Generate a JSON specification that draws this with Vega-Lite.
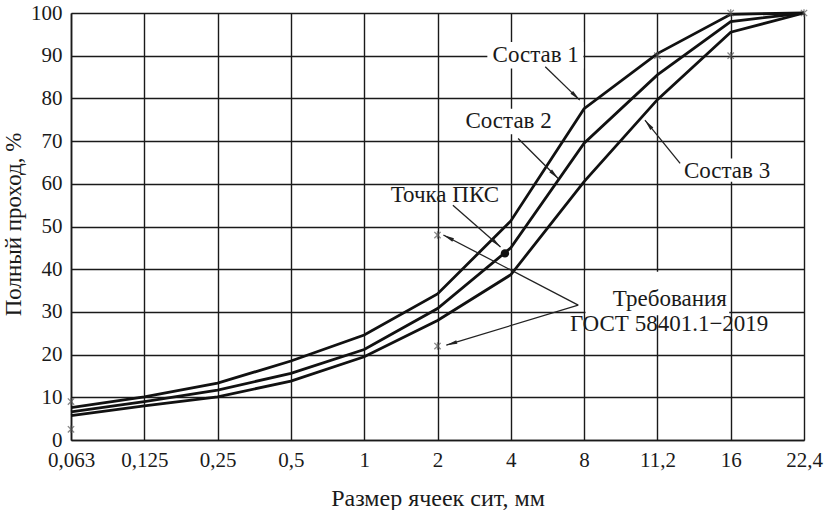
{
  "$schema": "https://vega.github.io/schema/vega-lite/v6.json",
  "width": 733,
  "height": 427,
  "autosize": "none",
  "padding": {"left": 71, "top": 13, "right": 23, "bottom": 70},
  "background": "white",
  "config": {
    "view": {"stroke": null},
    "font": "Liberation Serif",
    "axis": {
      "grid": true,
      "gridColor": "#1a1a1a",
      "gridWidth": 1.4,
      "domainColor": "#1a1a1a",
      "domainWidth": 1.6,
      "ticks": false,
      "labelFont": "Liberation Serif",
      "labelFontSize": 21,
      "labelColor": "#1a1a1a",
      "labelFlush": false,
      "labelOverlap": false,
      "labelBound": false,
      "titleFont": "Liberation Serif",
      "titleFontWeight": "normal",
      "titleColor": "#1a1a1a"
    }
  },
  "datasets": {
    "curves": [
      {"sieve": "0,063", "i": 0, "mix": "Состав 1", "pass": 7.6},
      {"sieve": "0,125", "i": 1, "mix": "Состав 1", "pass": 10.1},
      {"sieve": "0,25", "i": 2, "mix": "Состав 1", "pass": 13.3},
      {"sieve": "0,5", "i": 3, "mix": "Состав 1", "pass": 18.5},
      {"sieve": "1", "i": 4, "mix": "Состав 1", "pass": 24.6},
      {"sieve": "2", "i": 5, "mix": "Состав 1", "pass": 34.2},
      {"sieve": "4", "i": 6, "mix": "Состав 1", "pass": 51.3},
      {"sieve": "8", "i": 7, "mix": "Состав 1", "pass": 77.6},
      {"sieve": "11,2", "i": 8, "mix": "Состав 1", "pass": 90.5},
      {"sieve": "16", "i": 9, "mix": "Состав 1", "pass": 99.7},
      {"sieve": "22,4", "i": 10, "mix": "Состав 1", "pass": 100},
      {"sieve": "0,063", "i": 0, "mix": "Состав 2", "pass": 6.6},
      {"sieve": "0,125", "i": 1, "mix": "Состав 2", "pass": 9.0},
      {"sieve": "0,25", "i": 2, "mix": "Состав 2", "pass": 11.7},
      {"sieve": "0,5", "i": 3, "mix": "Состав 2", "pass": 15.6},
      {"sieve": "1", "i": 4, "mix": "Состав 2", "pass": 21.2},
      {"sieve": "2", "i": 5, "mix": "Состав 2", "pass": 30.8},
      {"sieve": "4", "i": 6, "mix": "Состав 2", "pass": 45.0},
      {"sieve": "8", "i": 7, "mix": "Состав 2", "pass": 69.5},
      {"sieve": "11,2", "i": 8, "mix": "Состав 2", "pass": 85.5},
      {"sieve": "16", "i": 9, "mix": "Состав 2", "pass": 98.0},
      {"sieve": "22,4", "i": 10, "mix": "Состав 2", "pass": 100},
      {"sieve": "0,063", "i": 0, "mix": "Состав 3", "pass": 5.7},
      {"sieve": "0,125", "i": 1, "mix": "Состав 3", "pass": 8.0},
      {"sieve": "0,25", "i": 2, "mix": "Состав 3", "pass": 10.1},
      {"sieve": "0,5", "i": 3, "mix": "Состав 3", "pass": 13.8},
      {"sieve": "1", "i": 4, "mix": "Состав 3", "pass": 19.5},
      {"sieve": "2", "i": 5, "mix": "Состав 3", "pass": 28.0},
      {"sieve": "4", "i": 6, "mix": "Состав 3", "pass": 38.7},
      {"sieve": "8", "i": 7, "mix": "Состав 3", "pass": 60.5},
      {"sieve": "11,2", "i": 8, "mix": "Состав 3", "pass": 79.7},
      {"sieve": "16", "i": 9, "mix": "Состав 3", "pass": 95.5},
      {"sieve": "22,4", "i": 10, "mix": "Состав 3", "pass": 100}
    ],
    "gost": [
      {"sieve": "0,063", "i": 0, "pass": 2.5},
      {"sieve": "0,063", "i": 0, "pass": 9},
      {"sieve": "2", "i": 5, "pass": 22},
      {"sieve": "2", "i": 5, "pass": 48},
      {"sieve": "11,2", "i": 8, "pass": 90},
      {"sieve": "16", "i": 9, "pass": 90},
      {"sieve": "16", "i": 9, "pass": 100},
      {"sieve": "22,4", "i": 10, "pass": 100}
    ],
    "pks": [
      {"i": 5.92, "pass": 43.7}
    ],
    "boxes": [
      {"i": 5.68, "i2": 6.99, "pass": 87.0, "pass2": 93.2},
      {"i": 5.3, "i2": 6.64, "pass": 71.6, "pass2": 77.6},
      {"i": 8.3, "i2": 9.62, "pass": 60.5, "pass2": 65.9},
      {"i": 7.02, "i2": 8.98, "pass": 29.2, "pass2": 39.4}
    ],
    "leaders": [
      {"i": 6.94, "pass": 79.6, "i2": 6.47, "pass2": 87.4, "dir": 134},
      {"i": 6.65, "pass": 61.2, "i2": 6.10, "pass2": 70.6, "dir": 135},
      {"i": 7.83, "pass": 74.9, "i2": 8.31, "pass2": 64.8, "dir": 321},
      {"i": 5.86, "pass": 45.2, "i2": 5.21, "pass2": 55.0, "dir": 132},
      {"i": 5.08, "pass": 48.0, "i2": 6.92, "pass2": 31.6, "dir": 297},
      {"i": 5.12, "pass": 22.2, "i2": 6.92, "pass2": 31.6, "dir": 253}
    ],
    "notes": [
      {"i": 6.34, "pass": 90.1, "label": "Состав 1"},
      {"i": 5.97, "pass": 74.6, "label": "Состав 2"},
      {"i": 8.95, "pass": 63.0, "label": "Состав 3"},
      {"i": 5.10, "pass": 57.3, "label": "Точка ПКС"},
      {"i": 8.17, "pass": 33.0, "label": "Требования"},
      {"i": 8.16, "pass": 27.1, "label": "ГОСТ 58401.1−2019"}
    ]
  },
  "encoding": {
    "x": {
      "field": "i", "type": "quantitative",
      "scale": {"domain": [0, 10], "nice": false, "zero": false},
      "axis": {
        "values": [0, 1, 2, 3, 4, 5, 6, 7, 8, 9, 10],
        "labelExpr": "['0,063','0,125','0,25','0,5','1','2','4','8','11,2','16','22,4'][datum.value]",
        "labelPadding": 9,
        "title": "Размер ячеек сит, мм",
        "titleFontSize": 24,
        "titleY": 58,
        "titleBaseline": "middle"
      }
    },
    "y": {
      "field": "pass", "type": "quantitative",
      "scale": {"domain": [0, 100], "nice": false},
      "axis": {
        "values": [0, 10, 20, 30, 40, 50, 60, 70, 80, 90, 100],
        "labelPadding": 9,
        "title": "Полный проход, %",
        "titleFontSize": 23,
        "titleX": -58,
        "titleY": 211,
        "titleBaseline": "middle"
      }
    }
  },
  "layer": [
    {
      "data": {"name": "boxes"},
      "mark": {"type": "rect", "fill": "white"},
      "encoding": {
        "x2": {"field": "i2"},
        "y2": {"field": "pass2"}
      }
    },
    {
      "data": {"name": "curves"},
      "mark": {"type": "line", "color": "#111111", "strokeWidth": 2.8},
      "encoding": {
        "detail": {"field": "mix"}
      }
    },
    {
      "data": {"name": "gost"},
      "mark": {"type": "point", "shape": "M-1,-1L1,1M-1,1L1,-1M0,-1.2L0,1.2", "size": 40, "filled": false, "stroke": "#555555", "strokeWidth": 1.3}
    },
    {
      "data": {"name": "pks"},
      "mark": {"type": "point", "shape": "circle", "size": 70, "filled": true, "color": "#111111", "opacity": 1}
    },
    {
      "data": {"name": "leaders"},
      "mark": {"type": "rule", "color": "#222222", "strokeWidth": 1.3},
      "encoding": {
        "x2": {"field": "i2"},
        "y2": {"field": "pass2"}
      }
    },
    {
      "data": {"name": "leaders"},
      "mark": {"type": "point", "shape": "M0,0L0.38,2.2L-0.38,2.2Z", "size": 100, "filled": true, "color": "#222222", "opacity": 1},
      "encoding": {
        "angle": {"field": "dir", "type": "quantitative", "scale": null}
      }
    },
    {
      "data": {"name": "notes"},
      "mark": {"type": "text", "font": "Liberation Serif", "fontSize": 23, "color": "#1a1a1a", "align": "center", "baseline": "middle"},
      "encoding": {
        "text": {"field": "label"}
      }
    }
  ]
}
